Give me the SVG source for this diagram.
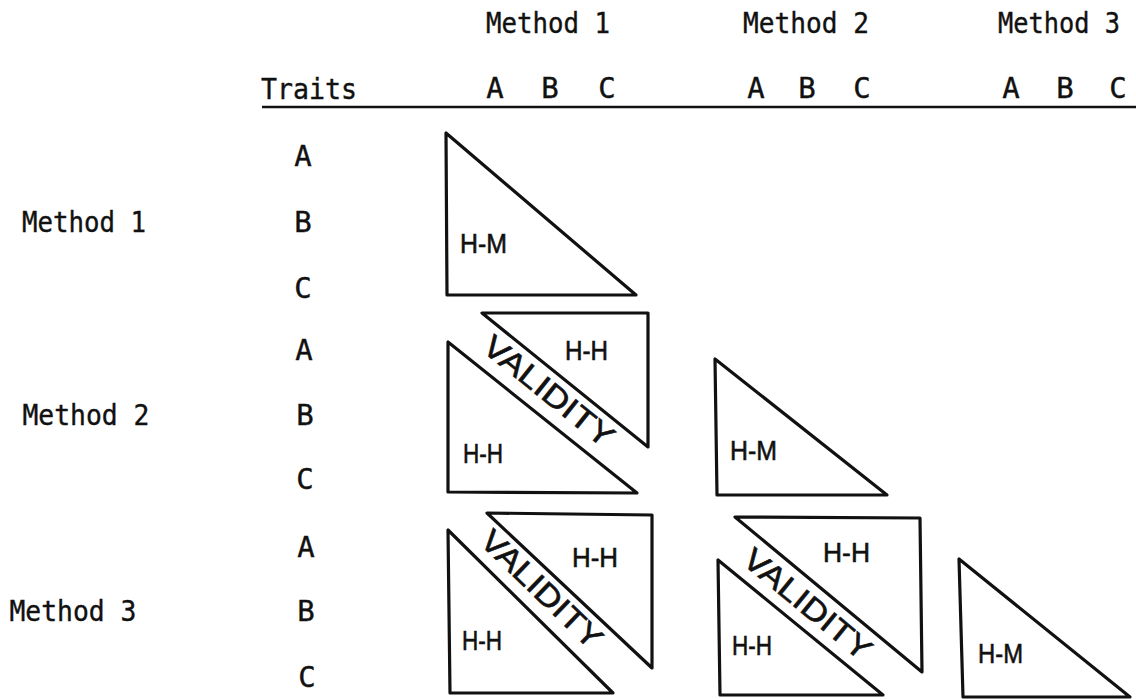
<svg xmlns="http://www.w3.org/2000/svg" width="1136" height="699" viewBox="0 0 1136 699">
  <style>
    .type { font-family: "DejaVu Sans Mono", "Liberation Mono", monospace; font-size: 29px; fill: #111; stroke: #111; stroke-width: 0.4; }
    .tag { font-family: "Liberation Sans", "DejaVu Sans", sans-serif; font-size: 28px; fill: #111; stroke: #111; stroke-width: 0.6; }
    .val { font-family: "Liberation Sans", "DejaVu Sans", sans-serif; font-size: 31px; fill: #111; stroke: #111; stroke-width: 0.6; text-anchor: middle; }
    .tri { fill: none; stroke: #111; stroke-width: 3.2; stroke-linejoin: round; }
    .rule { stroke: #111; stroke-width: 2.4; }
  </style>
  <rect width="1136" height="699" fill="#fff"/>

  <!-- column headings -->
  <g id="col-headers" class="type" text-anchor="middle">
    <text x="548" y="33" textLength="124" lengthAdjust="spacingAndGlyphs">Method 1</text>
    <text x="806" y="33" textLength="126" lengthAdjust="spacingAndGlyphs">Method 2</text>
    <text x="1059" y="33" textLength="122" lengthAdjust="spacingAndGlyphs">Method 3</text>
    <text x="309" y="99" textLength="96" lengthAdjust="spacingAndGlyphs">Traits</text>
    <text x="495" y="98">A</text>
    <text x="550" y="98">B</text>
    <text x="607" y="98">C</text>
    <text x="756" y="98">A</text>
    <text x="807" y="98">B</text>
    <text x="862" y="98">C</text>
    <text x="1011" y="98">A</text>
    <text x="1065" y="98">B</text>
    <text x="1118" y="98">C</text>
  </g>

  <!-- heading rule -->
  <g id="connectors">
    <line class="rule" x1="262" y1="107" x2="1136" y2="107"/>
  </g>

  <!-- row headings -->
  <g id="row-headers" class="type" text-anchor="middle">
    <text x="84" y="232" textLength="124" lengthAdjust="spacingAndGlyphs">Method 1</text>
    <text x="86" y="425" textLength="127" lengthAdjust="spacingAndGlyphs">Method 2</text>
    <text x="73" y="621" textLength="127" lengthAdjust="spacingAndGlyphs">Method 3</text>
    <text x="303" y="166">A</text>
    <text x="303" y="232">B</text>
    <text x="303" y="298">C</text>
    <text x="304" y="360">A</text>
    <text x="305" y="425">B</text>
    <text x="305" y="489">C</text>
    <text x="306" y="557">A</text>
    <text x="306" y="621">B</text>
    <text x="307" y="687">C</text>
  </g>

  <!-- method 1 x method 1 -->
  <g id="m1-m1">
    <polygon class="tri" points="446,133 447,295 636,295"/>
    <text class="tag" x="460" y="253" textLength="47" lengthAdjust="spacingAndGlyphs">H-M</text>
  </g>

  <!-- method 2 x method 1 -->
  <g id="m2-m1">
    <polygon class="tri" points="482,313 648,313 648,447"/>
    <polygon class="tri" points="448,342 448,492 637,493"/>
    <text class="tag" x="565" y="360" textLength="43" lengthAdjust="spacingAndGlyphs">H-H</text>
    <text class="tag" x="463" y="463" textLength="40" lengthAdjust="spacingAndGlyphs">H-H</text>
    <text class="val" transform="translate(549,391) rotate(38.8)" y="11" textLength="158" lengthAdjust="spacingAndGlyphs">VALIDITY</text>
  </g>

  <!-- method 2 x method 2 -->
  <g id="m2-m2">
    <polygon class="tri" points="715,359 717,495 887,495"/>
    <text class="tag" x="730" y="460" textLength="47" lengthAdjust="spacingAndGlyphs">H-M</text>
  </g>

  <!-- method 3 x method 1 -->
  <g id="m3-m1">
    <polygon class="tri" points="487,513 652,515 652,668"/>
    <polygon class="tri" points="448,530 450,693 613,693"/>
    <text class="tag" x="572" y="567" textLength="46" lengthAdjust="spacingAndGlyphs">H-H</text>
    <text class="tag" x="462" y="650" textLength="40" lengthAdjust="spacingAndGlyphs">H-H</text>
    <text class="val" transform="translate(542,589) rotate(44)" y="11" textLength="156" lengthAdjust="spacingAndGlyphs">VALIDITY</text>
  </g>

  <!-- method 3 x method 2 -->
  <g id="m3-m2">
    <polygon class="tri" points="735,517 920,518 922,672"/>
    <polygon class="tri" points="718,560 720,695 883,695"/>
    <text class="tag" x="823" y="562" textLength="47" lengthAdjust="spacingAndGlyphs">H-H</text>
    <text class="tag" x="732" y="655" textLength="40" lengthAdjust="spacingAndGlyphs">H-H</text>
    <text class="val" transform="translate(808,604) rotate(39.5)" y="11" textLength="156" lengthAdjust="spacingAndGlyphs">VALIDITY</text>
  </g>

  <!-- method 3 x method 3 -->
  <g id="m3-m3">
    <polygon class="tri" points="959,559 963,697 1130,697"/>
    <text class="tag" x="978" y="663" textLength="45" lengthAdjust="spacingAndGlyphs">H-M</text>
  </g>
</svg>
